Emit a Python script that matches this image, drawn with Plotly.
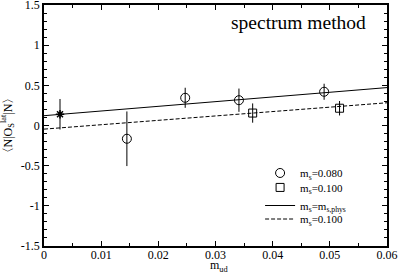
import plotly.graph_objects as go

# data
star_x = [0.0028]
star_y = [0.14]
star_err = [0.19]

c_x = [0.0145, 0.0247, 0.0341, 0.049]
c_y = [-0.165, 0.345, 0.315, 0.42]
c_err = [0.34, 0.125, 0.145, 0.10]

s_x = [0.0365, 0.0517]
s_y = [0.155, 0.215]
s_err = [0.12, 0.09]

fit_x = [0.0, 0.06]
fit_phys = [0.122, 0.472]
fit_100 = [-0.045, 0.283]

x_tickvals = [0, 0.01, 0.02, 0.03, 0.04, 0.05, 0.06]
x_ticktext = ["0", "0.01", "0.02", "0.03", "0.04", "0.05", "0.06"]
y_tickvals = [-1.5, -1, -0.5, 0, 0.5, 1, 1.5]
y_ticktext = ["-1.5", "-1", "-0.5", "0", "0.5", "1", "1.5"]

FONT = "Liberation Serif, Times New Roman, serif"

fig = go.Figure()
fig.add_trace(go.Scatter(x=c_x, y=c_y, mode="markers", name="m<sub>s</sub>=0.080", legend="legend",
                         marker=dict(symbol="circle-open", size=9, color="black", line=dict(width=1)),
                         error_y=dict(type="data", array=c_err, color="black", thickness=1, width=0)))
fig.add_trace(go.Scatter(x=s_x, y=s_y, mode="markers", name="m<sub>s</sub>=0.100", legend="legend2",
                         marker=dict(symbol="square-open", size=8, color="black", line=dict(width=1)),
                         error_y=dict(type="data", array=s_err, color="black", thickness=1, width=0)))
fig.add_trace(go.Scatter(x=fit_x, y=fit_phys, mode="lines", name="m<sub>s</sub>=m<sub>s,phys</sub>", legend="legend3",
                         line=dict(color="black", width=1)))
fig.add_trace(go.Scatter(x=fit_x, y=fit_100, mode="lines", name="m<sub>s</sub>=0.100", legend="legend4",
                         line=dict(color="black", width=1, dash="4px,2px")))
fig.add_trace(go.Scatter(x=star_x, y=star_y, mode="markers", showlegend=False,
                         marker=dict(symbol="asterisk-open", size=7, color="black", line=dict(width=1.5, color="black")),
                         error_y=dict(type="data", array=star_err, color="black", thickness=1, width=0)))

axis_common = dict(showgrid=False, zeroline=False, showline=True, linecolor="black", linewidth=1.5,
                   mirror="allticks", ticks="inside", tickcolor="black", tickangle=0, automargin=False,
                   tickfont=dict(family=FONT, size=12, color="black"))

fig.update_xaxes(range=[0, 0.06], tickvals=x_tickvals, ticktext=x_ticktext, ticklen=5, ticklabelstandoff=-3,
                 minor=dict(tickvals=[0.005, 0.015, 0.025, 0.035, 0.045, 0.055], ticks="inside", ticklen=3, tickcolor="black"),
                 **axis_common)
fig.update_yaxes(range=[-1.5, 1.5], tickvals=y_tickvals, ticktext=y_ticktext, ticklen=5,
                 minor=dict(dtick=0.1, tick0=0, ticks="inside", ticklen=3, tickcolor="black"),
                 **axis_common)

fig.add_annotation(text="m<sub>ud</sub>", xref="paper", yref="paper", x=0.513, y=-0.085,
                   xanchor="center", yanchor="middle", showarrow=False,
                   font=dict(family=FONT, size=12, color="black"))
fig.add_annotation(text="〈N|O<sub>S</sub><sup>lat</sup>|N〉", xref="paper", yref="paper", x=-0.105, y=0.5,
                   xanchor="center", yanchor="middle", showarrow=False, textangle=-90,
                   font=dict(family=FONT, size=12, color="black"))
fig.add_annotation(text="spectrum method", xref="paper", yref="paper", x=0.945, y=0.978,
                   xanchor="right", yanchor="top", showarrow=False,
                   font=dict(family=FONT, size=19.5, color="black"))

leg_common = dict(x=0.63, xanchor="left", yanchor="middle", bgcolor="rgba(0,0,0,0)",
                  font=dict(family=FONT, size=11), itemwidth=30)
fig.update_layout(width=399, height=273, margin=dict(l=44, r=12, t=5, b=27),
                  paper_bgcolor="white", plot_bgcolor="white",
                  font=dict(family=FONT, size=12, color="black"),
                  legend=dict(y=0.303, **leg_common),
                  legend2=dict(y=0.243, **leg_common),
                  legend3=dict(y=0.168, **leg_common),
                  legend4=dict(y=0.112, **leg_common))

fig.write_html("out.html", config={"displayModeBar": False},
               post_script="document.body.style.margin='0px';document.body.style.overflow='hidden';")
